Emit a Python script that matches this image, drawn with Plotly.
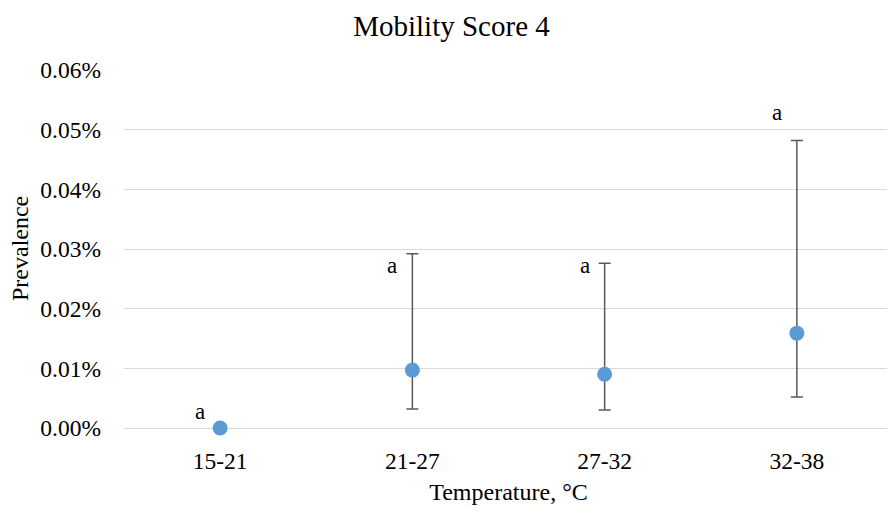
import plotly.graph_objects as go

categories = ["15-21", "21-27", "27-32", "32-38"]
prevalence = [0.0, 0.000097, 0.000090, 0.000159]
upper = [0.0, 0.000292, 0.000276, 0.000482]
lower = [0.0, 0.000032, 0.000030, 0.000052]
letters = ["a", "a", "a", "a"]
letter_y = [0.000027, 0.000272, 0.000272, 0.000528]

err_plus = [u - p for u, p in zip(upper, prevalence)]
err_minus = [p - l for p, l in zip(prevalence, lower)]

font_family = "Liberation Serif, Times New Roman, serif"

fig = go.Figure()
fig.add_trace(go.Scatter(
    x=categories, y=prevalence, mode="markers", cliponaxis=False,
    marker=dict(color="#5B9BD5", size=15),
    error_y=dict(type="data", symmetric=False, array=err_plus, arrayminus=err_minus,
                 color="#595959", thickness=1.5, width=6),
    showlegend=False,
))

for c, t, ly in zip(categories, letters, letter_y):
    fig.add_annotation(x=c, y=ly, text=t, showarrow=False, xshift=-20,
                       font=dict(family=font_family, size=23, color="#000000"))

# y-axis title as annotation for exact placement
fig.add_annotation(xref="paper", yref="paper", x=0, y=0.5, xshift=-104,
                   text="Prevalence", textangle=-90, showarrow=False,
                   xanchor="center", yanchor="middle",
                   font=dict(family=font_family, size=24, color="#000000"))

fig.update_layout(
    width=887, height=506,
    margin=dict(l=116, r=2, t=62, b=86),
    paper_bgcolor="white", plot_bgcolor="white",
    font=dict(family=font_family, size=23, color="#000000"),
    title=dict(text="Mobility Score 4", x=0.5, xanchor="center", y=0.964, yanchor="middle",
               xref="container", font=dict(family=font_family, size=29, color="#000000")),
    xaxis=dict(type="category", range=[-0.5, 3.5], showgrid=False, showline=False,
               ticks="", tickfont=dict(size=23.5), ticklabelstandoff=16, automargin=False,
               title=dict(text="Temperature, °C", standoff=10,
                          font=dict(size=24))),
    yaxis=dict(range=[0, 0.0006], tickvals=[0, 0.0001, 0.0002, 0.0003, 0.0004, 0.0005, 0.0006],
               tickformat=".2%", showgrid=True, gridcolor="#D9D9D9", gridwidth=1,
               zeroline=True, zerolinecolor="#D9D9D9", zerolinewidth=1,
               showline=False, ticks="", ticklabelstandoff=22, tickfont=dict(size=23.5),
               automargin=False),
)

fig.write_html("out.html")
